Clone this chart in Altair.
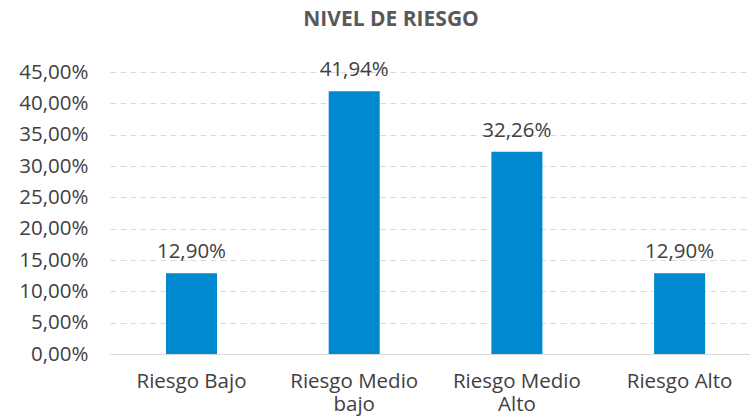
import altair as alt
import pandas as pd

categories = ["Riesgo Bajo", "Riesgo Medio bajo", "Riesgo Medio Alto", "Riesgo Alto"]
values = [0.1290, 0.4194, 0.3226, 0.1290]
y_ticks = [0.00, 0.05, 0.10, 0.15, 0.20, 0.25, 0.30, 0.35, 0.40, 0.45]

df = pd.DataFrame({"cat": categories, "val": values})

FONT = "Open Sans"
TXT = "#404040"
FS = 20.5

x_enc = alt.X(
    "cat:N",
    sort=categories,
    title=None,
    scale=alt.Scale(paddingInner=0.6865, paddingOuter=0.31, align=0.555),
    axis=alt.Axis(
        labelAngle=0,
        labelFont=FONT,
        labelFontSize=FS,
        labelColor=TXT,
        labelPadding=17,
        labelLineHeight=23,
        labelOverlap=False,
        ticks=False,
        grid=False,
        domainColor="#D9D9D9",
        domainWidth=1.2,
        labelExpr="datum.value == 'Riesgo Medio bajo' ? ['Riesgo Medio', 'bajo'] : datum.value == 'Riesgo Medio Alto' ? ['Riesgo Medio', 'Alto'] : datum.value",
    ),
)

y_enc = alt.Y(
    "val:Q",
    title=None,
    scale=alt.Scale(domain=[0, 0.45], nice=False),
    axis=alt.Axis(
        values=y_ticks,
        labelExpr="replace(format(datum.value, '.2%'), '.', ',')",
        labelFont=FONT,
        labelFontSize=FS,
        labelColor=TXT,
        labelPadding=22,
        labelOverlap=False,
        labelBound=False,
        ticks=False,
        domain=False,
        gridColor="#D9D9D9",
        gridDash=[6, 4],
        gridWidth=1.2,
    ),
)

bars = alt.Chart(df).mark_bar(color="#0089CF").encode(x=x_enc, y=y_enc)

labels = (
    alt.Chart(df)
    .transform_calculate(lbl="replace(format(datum.val, '.2%'), '.', ',')")
    .mark_text(font=FONT, fontSize=FS, color=TXT, baseline="alphabetic", dy=-15)
    .encode(x=x_enc, y=y_enc, text="lbl:N")
)

chart = (
    alt.layer(bars, labels)
    .properties(
        width=640,
        height=282,
        background="white",
        autosize=alt.AutoSizeParams(type="none"),
        padding={"left": 110, "top": 72, "right": 0, "bottom": 63},
        title=alt.TitleParams(
            "NIVEL DE RIESGO",
            font=FONT,
            fontSize=21,
            fontWeight="bold",
            color="#595959",
            anchor="middle",
            frame="group",
            dx=-39,
            baseline="alphabetic",
            offset=13,
        ),
    )
    .configure_view(strokeWidth=0)
)

chart.save("out.html", embed_options={"renderer": "svg", "actions": False})
